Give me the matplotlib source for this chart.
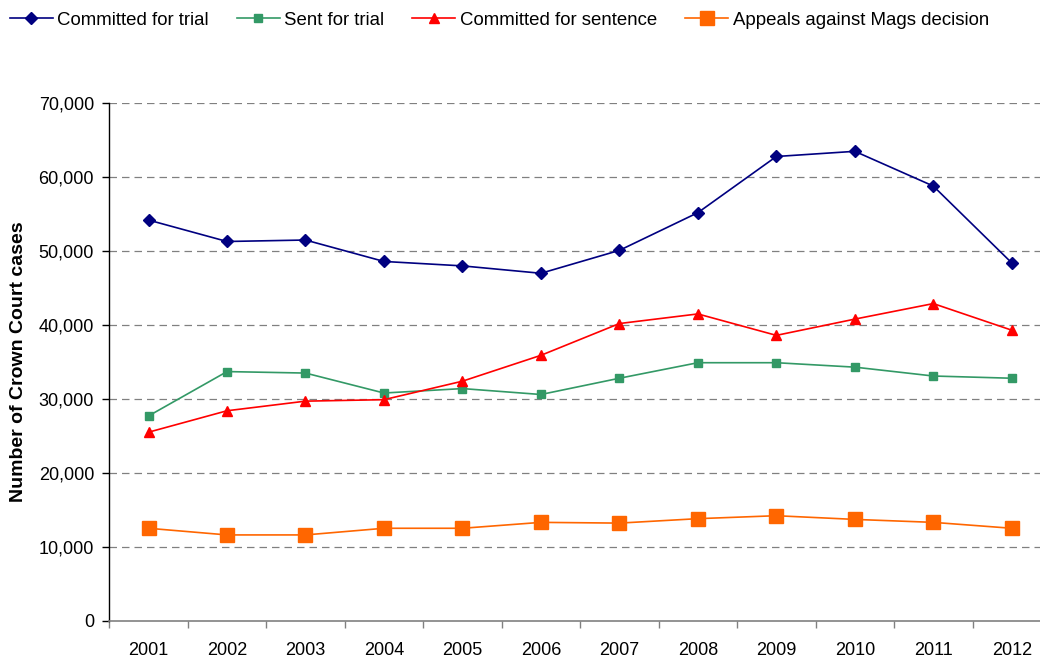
import matplotlib
matplotlib.use("Agg")
import matplotlib.pyplot as plt
from matplotlib.ticker import FuncFormatter, FixedLocator

plt.rcParams["font.family"] = ["Liberation Sans", "DejaVu Sans"]

years = ["2001", "2002", "2003", "2004", "2005", "2006",
         "2007", "2008", "2009", "2010", "2011", "2012"]
committed_trial = [54200, 51300, 51500, 48600, 48000, 47000,
                   50100, 55200, 62800, 63500, 58800, 48400]
sent_trial = [27700, 33700, 33500, 30800, 31400, 30600,
              32800, 34900, 34900, 34300, 33100, 32800]
committed_sentence = [25500, 28400, 29700, 29900, 32400, 35900,
                      40200, 41500, 38600, 40800, 42900, 39300]
appeals = [12500, 11600, 11600, 12500, 12500, 13300,
           13200, 13800, 14200, 13700, 13300, 12500]

series = [
    ("Committed for trial", committed_trial, "#000080", "D", 6.0),
    ("Sent for trial", sent_trial, "#339966", "s", 5.5),
    ("Committed for sentence", committed_sentence, "#FF0000", "^", 7.0),
    ("Appeals against Mags decision", appeals, "#FF6600", "s", 9.5),
]

fig = plt.figure(figsize=(10.4, 6.57), dpi=100)
# the category axis runs a little past the right edge of the figure
ax = fig.add_axes([0.1051, 0.0553, 0.9055, 0.7875])

x = list(range(len(years)))
for label, vals, color, marker, ms in series:
    ax.plot(x, vals, color=color, marker=marker, markersize=ms,
            linewidth=1.2, label=label, clip_on=False)

ax.set_xlim(-0.5, len(years) - 0.5)
ax.set_ylim(0, 70000)
ax.set_yticks(range(0, 70001, 10000))
ax.yaxis.set_major_formatter(FuncFormatter(lambda v, p: f"{int(v):,}"))

ax.set_xticks(x)
ax.set_xticklabels(years)
ax.xaxis.set_minor_locator(FixedLocator([i - 0.5 for i in range(len(years) + 1)]))
ax.tick_params(axis="x", which="major", length=0, pad=15, labelsize=13)
ax.tick_params(axis="x", which="minor", length=5, color="#808080", width=1)
ax.tick_params(axis="y", length=5, width=1, labelsize=13, pad=6)

for v in range(10000, 70001, 10000):
    ax.axhline(v, color="#808080", linewidth=0.9, linestyle=(0, (6, 4)), zorder=0)

for side in ("top", "right"):
    ax.spines[side].set_visible(False)
ax.spines["left"].set_color("black")
ax.spines["bottom"].set_color("#808080")
ax.spines["left"].set_linewidth(1)
ax.spines["bottom"].set_linewidth(1.2)

ax.set_ylabel("Number of Crown Court cases", fontsize=14, fontweight="bold",
              labelpad=8)

fig.legend(loc="center left", bbox_to_anchor=(10 / 1040, 1 - 20 / 657),
           ncol=4, frameon=False, fontsize=13.4, handlelength=2.3,
           handletextpad=0.25, columnspacing=1.5, borderpad=0,
           borderaxespad=0)

fig.savefig("out.png", dpi=100)
